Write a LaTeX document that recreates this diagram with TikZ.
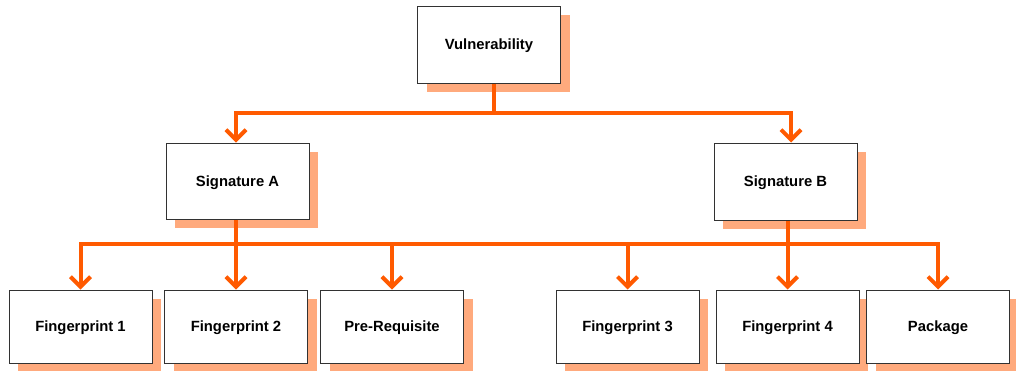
\documentclass[tikz,border=0pt]{standalone}
\usepackage{fontspec}
\setmainfont{Liberation Sans}
\usetikzlibrary{arrows.meta,shadows,calc}
\definecolor{linkorange}{RGB}{255,90,0}
\definecolor{shadowsalmon}{RGB}{255,170,125}
\definecolor{boxedge}{RGB}{50,50,50}
\tikzset{
  box/.style={draw=boxedge, line width=1pt, fill=white,
    minimum width=143pt, minimum height=75pt, inner sep=0pt,
    text height=10.6pt, text depth=0pt,
    font=\bfseries\fontsize{14.8}{17}\selectfont,
    drop shadow={shadow xshift=9pt, shadow yshift=-9pt, fill=shadowsalmon, opacity=1}},
  lowbox/.style={box, minimum height=73pt},
  link/.style={draw=linkorange, line width=4pt, line join=miter},
  arrowlink/.style={link, -{Straight Barb[length=10pt,width=20pt]}}
}
\begin{document}
\begin{tikzpicture}[x=1pt,y=-1pt]
  \useasboundingbox (0,0) rectangle (1016,370);

  % top level
  \node[box, minimum height=77pt] (vul) at (489,44.5) {Vulnerability};

  % signatures
  \node[box, minimum height=76pt] (sigA) at (237.5,181) {Signature A};
  \node[box, minimum height=77pt] (sigB) at (785.5,181.5) {Signature B};

  % leaves
  \node[lowbox] (fp1) at (80.5,326.5) {Fingerprint 1};
  \node[lowbox] (fp2) at (236,326.5) {Fingerprint 2};
  \node[lowbox] (pre) at (392,326.5) {Pre-Requisite};
  \node[lowbox] (fp3) at (627.5,326.5) {Fingerprint 3};
  \node[lowbox] (fp4) at (787.5,326.5) {Fingerprint 4};
  \node[lowbox] (pkg) at (938,326.5) {Package};

  % vulnerability to signatures
  \draw[link] ([xshift=5pt]vul.south) -- ++(0,29) coordinate (top);
  \draw[arrowlink] (top) -| ([xshift=-1.5pt]sigA.north);
  \draw[arrowlink] (top) -| ([xshift=5.5pt]sigB.north);

  % signatures to leaves
  \draw[link] ([xshift=-1.5pt]sigA.south) -- ++(0,24.5) coordinate (bus);
  \draw[link] ([xshift=2.5pt]sigB.south) -- ([xshift=2.5pt]sigB.south |- bus);
  \draw[arrowlink] (bus) -| (fp1.north);
  \draw[arrowlink] (bus) -| (pkg.north);
  \draw[arrowlink] (fp2.north |- bus) -- (fp2.north);
  \draw[arrowlink] (pre.north |- bus) -- (pre.north);
  \draw[arrowlink] (fp3.north |- bus) -- (fp3.north);
  \draw[arrowlink] (fp4.north |- bus) -- (fp4.north);
\end{tikzpicture}
\end{document}
